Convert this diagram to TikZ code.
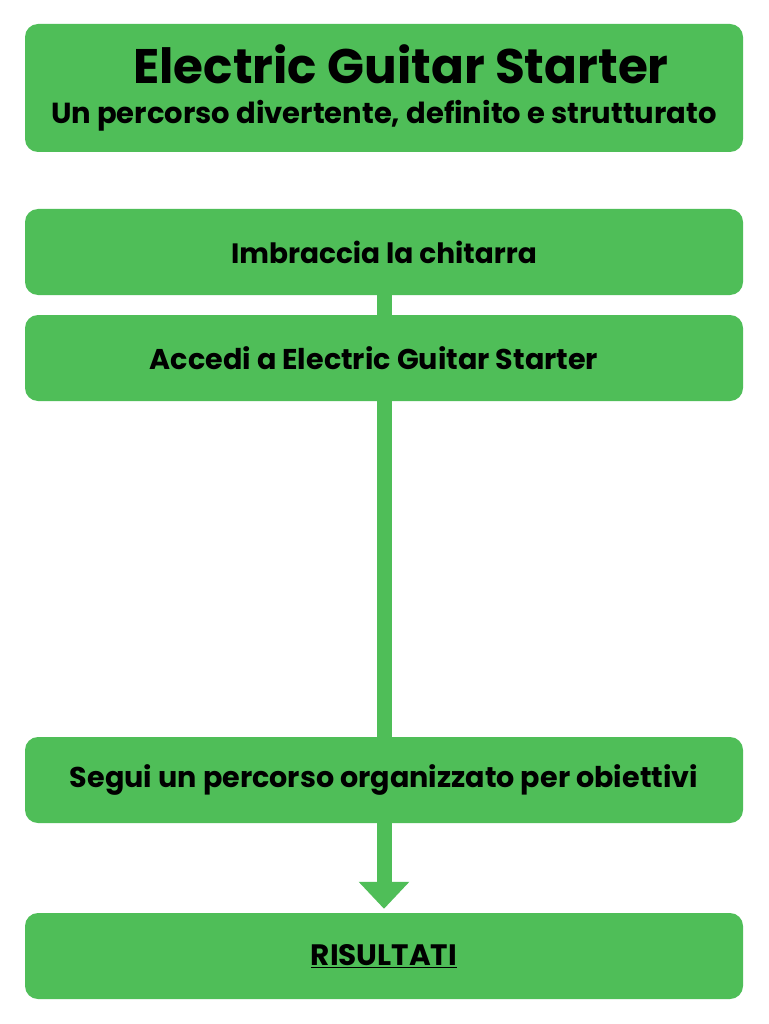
\documentclass[tikz,border=0pt]{standalone}
\usepackage{fontspec}
\setmainfont{Poppins}[BoldFont={* Bold}]
\usetikzlibrary{arrows.meta}
\definecolor{boxgreen}{HTML}{4FBE58}
\begin{document}
\begin{tikzpicture}[x=1pt,y=-1pt,
  box/.style={fill=boxgreen, rounded corners=13pt, minimum width=718pt, inner sep=0pt, font=\bfseries\fontsize{28}{32}\selectfont},
  label/.style={inner sep=0pt, font=\bfseries\fontsize{28.6}{32}\selectfont},
  link/.style={draw=boxgreen, line width=15pt}]
\useasboundingbox (0,0) rectangle (768,1024);
\fill[white] (0,0) rectangle (768,1024);
\node[box, minimum height=128pt] (title) at (384,88) {};
\node[font=\bfseries\fontsize{48.5}{54}\selectfont, inner sep=0pt] (t1) at (401,64) {Electric Guitar Starter};
\node[font=\bfseries\fontsize{29}{33}\selectfont, inner sep=0pt] (t2) at (384,116) {Un percorso divertente, definito e strutturato};
\node[box, minimum height=86pt] (b1) at (384,252) {Imbraccia la chitarra};
\node[box, minimum height=86pt] (b2) at (384,358) {};
\node[label] (l2) at (374,358) {Accedi a Electric Guitar Starter};
\node[box, minimum height=86pt, font=\bfseries\fontsize{28.6}{32}\selectfont] (b3) at (384,780) {Segui un percorso organizzato per obiettivi};
\node[box, minimum height=86pt, font=\bfseries\fontsize{29.5}{33}\selectfont] (b4) at (384,956) {\underline{RISULTATI}};
\draw[link] (b1.south) -- (b2.north);
\draw[link] (b2.south) -- (b3.north);
\draw[link, -{Triangle[width=49pt,length=27pt]}, shorten >=4pt] (b3.south) -- (b4.north);
\end{tikzpicture}
\end{document}
